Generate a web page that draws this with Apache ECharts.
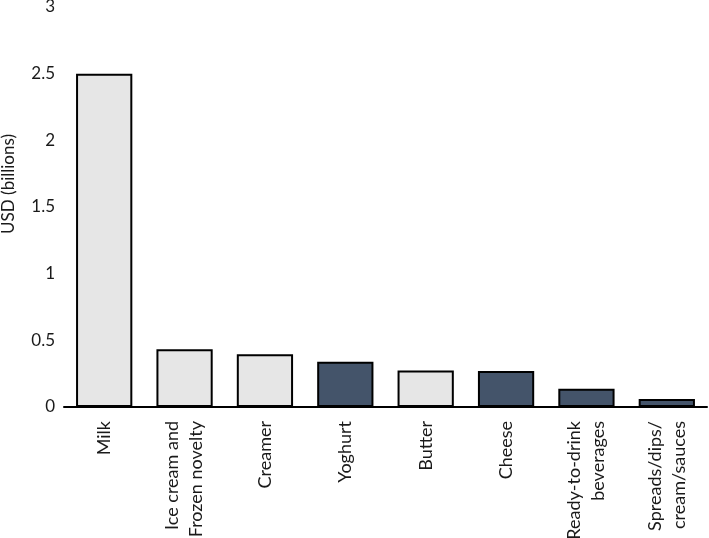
<!DOCTYPE html>
<html>
<head>
<meta charset="utf-8">
<script src="https://cdn.jsdelivr.net/npm/echarts@6/dist/echarts.min.js"></script>
<style>html,body{margin:0;padding:0;background:#fff;}#c{width:709px;height:538px;}</style>
</head>
<body>
<div id="c"></div>
<script>
const categories = ['Milk', 'Ice cream and\nFrozen novelty', 'Creamer', 'Yoghurt', 'Butter', 'Cheese', 'Ready-to-drink\nbeverages', 'Spreads/dips/\ncream/sauces'];
const values = [2.5, 0.433, 0.396, 0.34, 0.273, 0.27, 0.137, 0.06];
const highlighted = [false, false, false, true, false, true, true, true];
const yTicks = { min: 0, max: 3, interval: 0.5 };
const yName = 'USD (billions)';

const FONT = 'Lato';
const TXT = '#1a1a1a';
const chart = echarts.init(document.getElementById('c'), null, { renderer: 'canvas' });
chart.setOption({
  animation: false,
  textStyle: { fontFamily: FONT },
  grid: { left: 64, right: 2, top: 7, bottom: 131, containLabel: false, outerBoundsMode: 'none' },
  xAxis: {
    type: 'category',
    data: categories,
    axisLine: { lineStyle: { color: '#000', width: 2 } },
    axisTick: { show: false },
    axisLabel: { rotate: 90, interval: 0, margin: 14, fontSize: 18, color: TXT, fontFamily: FONT, lineHeight: 24 }
  },
  yAxis: {
    type: 'value',
    min: yTicks.min, max: yTicks.max, interval: yTicks.interval,
    axisLine: { show: false },
    axisTick: { show: false },
    splitLine: { show: false },
    axisLabel: { margin: 9, fontSize: 17, color: TXT, fontFamily: FONT, padding: [4, 0, 0, 0] }
  },
  graphic: [{
    type: 'text', left: 0, top: 134, rotation: Math.PI / 2,
    style: { text: yName, fontSize: 17, fill: TXT, fontFamily: FONT }
  }],
  series: [{
    type: 'bar',
    barCategoryGap: '30%',
    data: values.map((v, i) => ({
      value: v,
      itemStyle: { color: highlighted[i] ? '#44546a' : '#e6e6e6', borderColor: '#000', borderWidth: 2 }
    }))
  }]
});
</script>
</body>
</html>
